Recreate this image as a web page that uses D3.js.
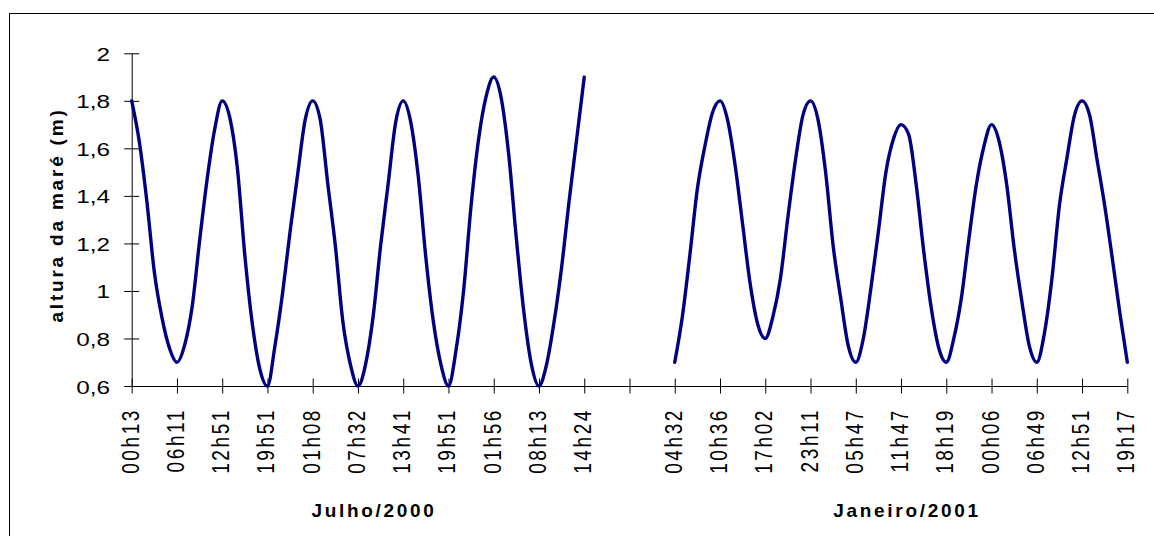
<!DOCTYPE html>
<html>
<head>
<meta charset="utf-8">
<script src="https://cdn.jsdelivr.net/npm/d3@7"></script>
<style>
  html, body { margin: 0; padding: 0; background: #fff; }
  svg { display: block; }
  text { font-family: "Liberation Sans", Arial, sans-serif; fill: #000; }
</style>
</head>
<body>
<svg id="chart" width="1154" height="536"></svg>
<script>
// ---- data ----
const tickLabels = ["00h13","06h11","12h51","19h51","01h08","07h32","13h41","19h51","01h56","08h13","14h24","",
                    "04h32","10h36","17h02","23h11","05h47","11h47","18h19","00h06","06h49","12h51","19h17"];
const groupLabels = ["Julho/2000", "Janeiro/2001"];
const julhoValues = [1.80,1.63,1.38,1.08,0.89,0.76,0.70,
  0.77,0.93,1.21,1.47,1.68,1.80,
  1.73,1.52,1.15,0.86,0.67,0.60,
  0.77,0.99,1.25,1.49,1.72,1.80,
  1.72,1.45,1.19,0.87,0.69,0.60,
  0.69,0.89,1.19,1.45,1.71,1.80,
  1.71,1.48,1.14,0.87,0.69,0.60,
  0.75,1.00,1.36,1.64,1.82,1.90,
  1.81,1.57,1.22,0.91,0.69,0.60,
  0.69,0.87,1.10,1.38,1.64,1.90];
const gapValues = [null,null,null,null,null,null,null,null,null,null,null];
const janeiroValues = [0.70,0.89,1.15,1.43,1.61,1.75,1.80,
  1.72,1.53,1.28,1.03,0.86,0.80,
  0.89,1.05,1.31,1.55,1.74,1.80,
  1.72,1.50,1.19,0.97,0.77,0.70,
  0.80,1.01,1.25,1.50,1.64,1.70,
  1.66,1.45,1.17,0.93,0.76,0.70,
  0.80,0.97,1.22,1.45,1.61,1.70,
  1.63,1.45,1.18,0.96,0.77,0.70,
  0.82,1.05,1.36,1.56,1.74,1.80,
  1.74,1.55,1.36,1.14,0.91,0.70];
const yTicks = [0.6,0.8,1.0,1.2,1.4,1.6,1.8,2.0];
const yTickLabels = ["0,6","0,8","1","1,2","1,4","1,6","1,8","2"];
const yTitle = "altura da maré (m)";

const values = julhoValues.concat(gapValues, janeiroValues);
const pointsPerLabel = 6;

// ---- layout ----
const svg = d3.select("#chart");
svg.append("rect").attr("width",1154).attr("height",536).attr("fill","#fff");
svg.append("rect").attr("x",9.5).attr("y",13.5).attr("width",1300).attr("height",700)
   .attr("fill","none").attr("stroke","#000").attr("stroke-width",1);

const x = d3.scaleLinear().domain([0, values.length - 1]).range([131.7, 1127.3]);
const y = d3.scaleLinear().domain([0.6, 2.0]).range([386, 53.3]);

// y axis
const yAxis = d3.axisLeft(y).tickValues(yTicks).tickSize(0)
  .tickFormat((d, i) => yTickLabels[i]);
const yG = svg.append("g").attr("transform", "translate(131.7,0)").call(yAxis);
yG.select(".domain").attr("stroke","#000").attr("stroke-width",1);
yG.selectAll(".tick line").remove();
yG.selectAll(".tick").append("line").attr("x1",-7.5).attr("x2",7.5).attr("stroke","#000");
yG.selectAll(".tick text")
  .attr("x", null).attr("dy", null)
  .attr("text-anchor","end")
  .attr("font-size", 19)
  .attr("transform", "translate(-21.7,7) scale(1.28,1)");

// x axis
const tickIdx = tickLabels.map((_, i) => i * pointsPerLabel);
const xAxis = d3.axisBottom(x).tickValues(tickIdx).tickSize(0).tickFormat((d, i) => tickLabels[i]);
const xG = svg.append("g").attr("transform", "translate(0,386)").call(xAxis);
xG.select(".domain").attr("stroke","#000").attr("stroke-width",1);
xG.selectAll(".tick line").remove();
xG.selectAll(".tick").append("line").attr("y1",-7.5).attr("y2",7.5).attr("stroke","#000");
xG.selectAll(".tick text")
  .attr("y", null).attr("dy", null)
  .attr("text-anchor","end")
  .attr("font-size", 19)
  .attr("letter-spacing", "2.6px")
  .attr("transform", "translate(6.5,22) rotate(-90) scale(1,1.25)");

// group labels
const groupX = [374, 907];
svg.selectAll(".grp").data(groupLabels).enter().append("text")
  .attr("class","grp")
  .attr("x", (d, i) => groupX[i]).attr("y", 517)
  .attr("text-anchor","middle")
  .attr("font-size", 19).attr("font-weight","bold")
  .attr("letter-spacing","2.7px")
  .text(d => d);

// y title
svg.append("text")
  .attr("transform","translate(63,215) rotate(-90)")
  .attr("text-anchor","middle")
  .attr("font-size", 19).attr("font-weight","bold")
  .attr("letter-spacing","2.8px")
  .text(yTitle);

// line
const line = d3.line()
  .defined(d => d != null)
  .x((d, i) => x(i))
  .y(d => y(d))
  .curve(d3.curveMonotoneX);
svg.append("path")
  .datum(values)
  .attr("d", line)
  .attr("fill","none")
  .attr("stroke","#000080")
  .attr("stroke-width",3.4)
  .attr("stroke-linejoin","round")
  .attr("stroke-linecap","round");
</script>
</body>
</html>
